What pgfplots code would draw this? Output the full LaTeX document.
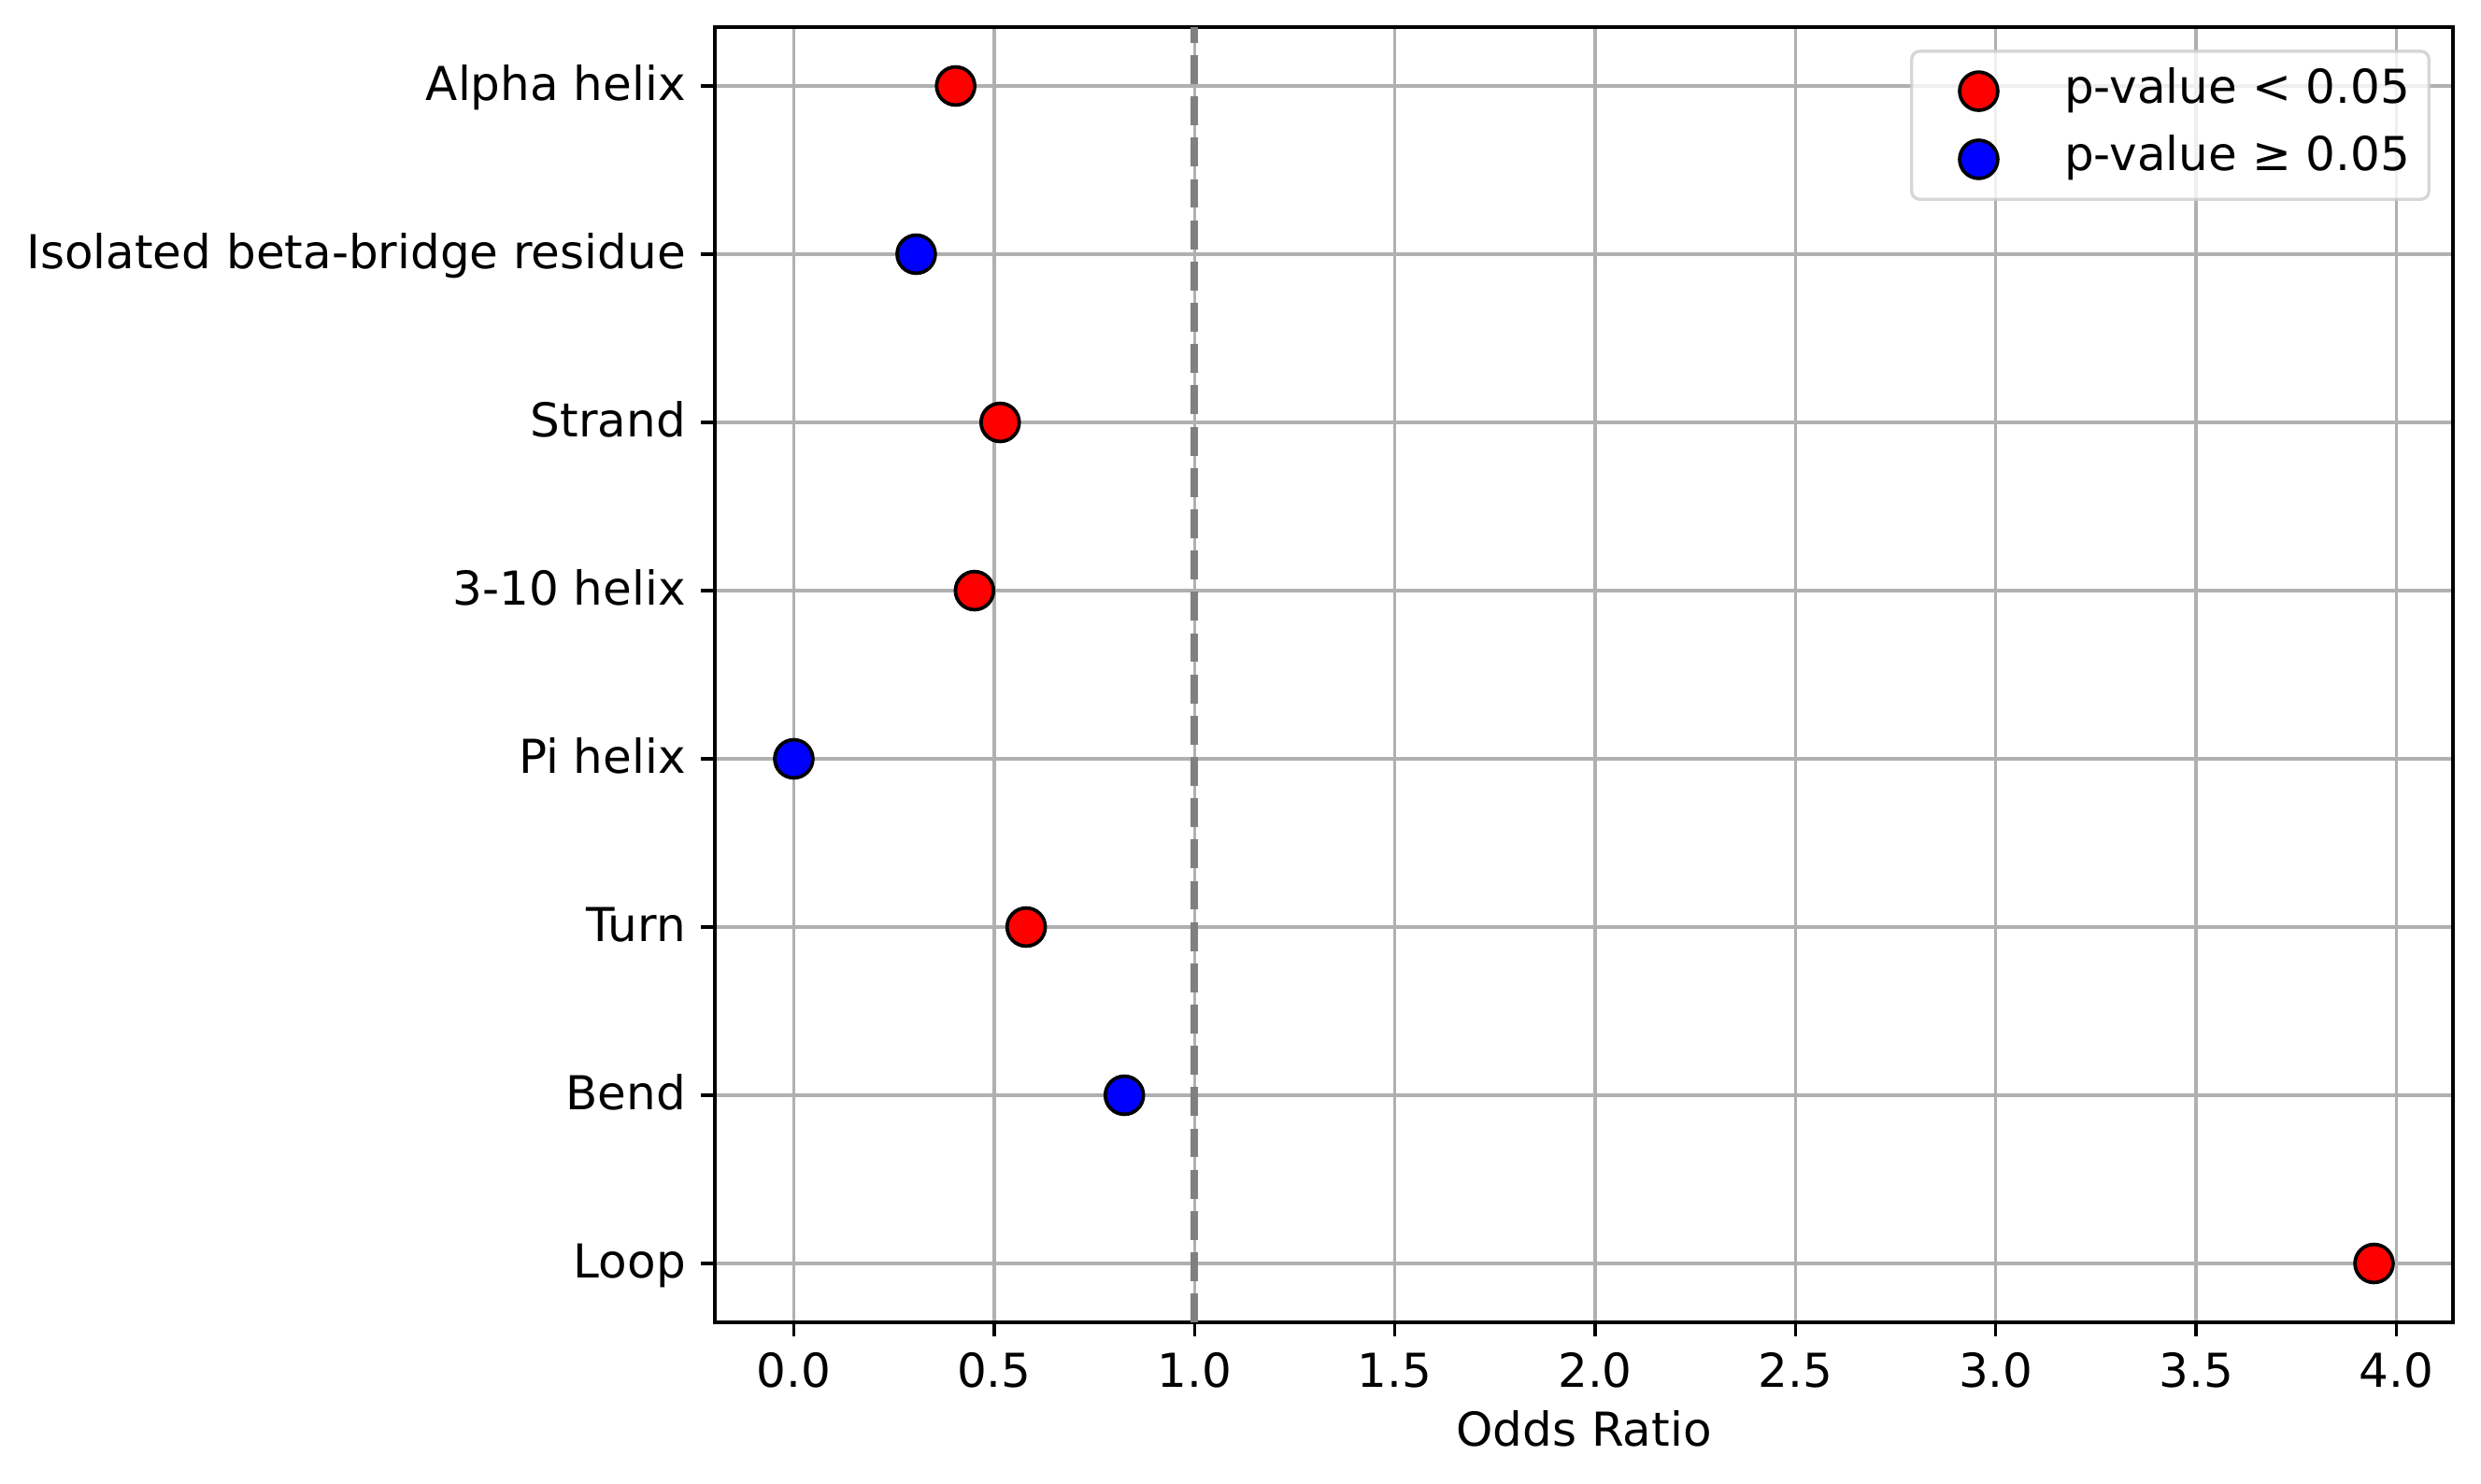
\documentclass[border=0pt]{standalone}
\usepackage{fontspec}
\setmainfont{DejaVu Sans}
\usepackage{pgfplots}
\pgfplotsset{compat=1.18}
\usepackage{pgfplotstable}
\definecolor{gridgray}{HTML}{B0B0B0}
\definecolor{refgray}{HTML}{808080}
\definecolor{legframe}{HTML}{CCCCCC}
\definecolor{mplred}{HTML}{FF0000}
\definecolor{mplblue}{HTML}{0000FF}

% Significant (p < 0.05)
\pgfplotstableread{
x y
0.404 7
0.515 5
0.451 4
0.580 2
3.944 0
}\sigtable
% Not significant (p >= 0.05)
\pgfplotstableread{
x y
0.3055 6
0.000 3
0.825 1
}\nonsigtable

\begin{document}
\begin{tikzpicture}
\begin{axis}[
  set layers,
  at={(0,0)}, anchor=south west,
  scale only axis, width=446.4pt, height=332.64pt,
  xmin=-0.197, xmax=4.141, ymin=-0.35, ymax=7.35,
  xtick={0,0.5,1,1.5,2,2.5,3,3.5,4},
  ytick={0,1,2,3,4,5,6,7},
  yticklabels={Loop,Bend,Turn,Pi helix,3-10 helix,Strand,Isolated beta-bridge residue,Alpha helix},
  xtick pos=bottom, ytick pos=left,
  tick align=outside,
  major tick length=3.5pt,
  every tick/.style={black, line width=0.8pt},
  axis line style={black, line width=0.8pt},
  grid=major,
  major grid style={gridgray, line width=0.8pt},
  /pgf/number format/.cd, fixed, fixed zerofill, precision=1, assume math mode=true,
  /pgfplots/.cd,
  ticklabel style={font=\fontsize{12}{14.4}\selectfont},
  yticklabel style={text height=7.6pt, text depth=0pt, inner xsep=3.8pt},
  xticklabel style={text height=8.75pt, text depth=0pt, inner ysep=4.3pt},
  xlabel={Odds Ratio},
  xlabel style={font=\fontsize{12}{14.4}\selectfont, at={(axis description cs:0.5,0)}, anchor=base, yshift=-31.8pt},
  legend style={
    at={(1,1)}, anchor=north east, xshift=-5.8pt, yshift=-5.8pt,
    draw=legframe, rounded corners=2pt, fill=white, fill opacity=0.8, draw opacity=0.8, text opacity=1,
    line width=0.8pt,
    inner xsep=4.8pt, inner ysep=1.5pt,
    font=\fontsize{12}{14.4}\selectfont,
    nodes={inner xsep=0pt, inner ysep=2.75pt, text height=9pt, text depth=3pt, anchor=west},
    /tikz/every odd column/.style={column sep=9.6pt},
  },
  legend cell align=left,
  legend image code/.code={\path (0pt,0pt) (24pt,0pt); \draw[#1, opacity=1, fill opacity=1, draw opacity=1] plot coordinates {(12pt,0pt)};},
]
\addplot[on layer=axis background, only marks, mark=*, mark size=4.9pt,
  mark options={fill=mplred, draw=black, line width=0.9pt, opacity=1}] table[x=x, y=y] {\sigtable};
\addlegendentry{p-value < 0.05}
\addplot[on layer=axis background, only marks, mark=*, mark size=4.9pt,
  mark options={fill=mplblue, draw=black, line width=0.9pt, opacity=1}] table[x=x, y=y] {\nonsigtable};
\addlegendentry{p-value ≥ 0.05}
\addplot[forget plot, refgray, line width=2pt, dash pattern=on 7.4pt off 3.2pt] coordinates {(1,-0.35) (1,7.35)};
\end{axis}
\pgfresetboundingbox
\path[use as bounding box] (-183.6pt,-41.28pt) rectangle (453.6pt,339.6pt);
\end{tikzpicture}
\end{document}
